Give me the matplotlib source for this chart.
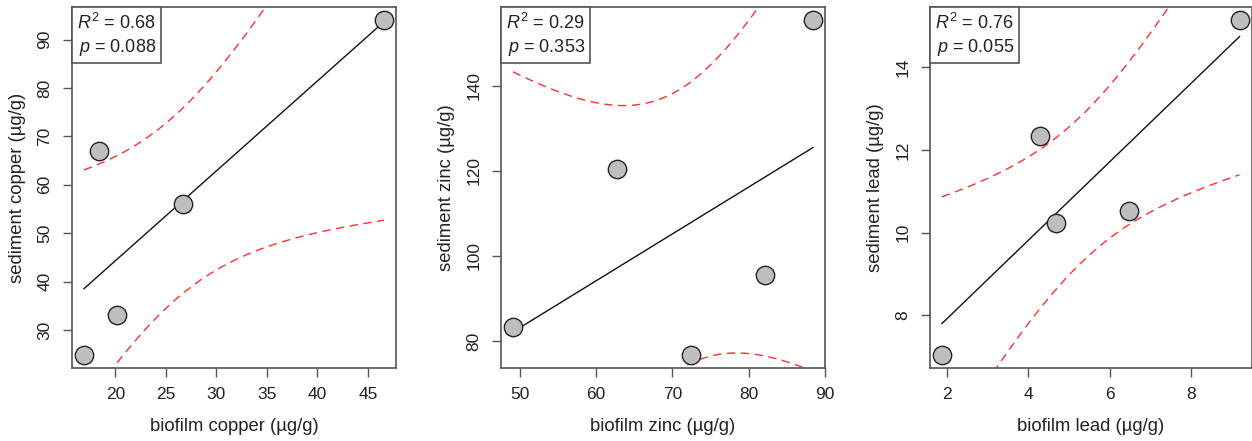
import numpy as np
import matplotlib
matplotlib.use("Agg")
import matplotlib.pyplot as plt
from matplotlib.ticker import MultipleLocator
from matplotlib.offsetbox import AnchoredText

plt.rcParams['font.family'] = ['Liberation Sans', 'DejaVu Sans']
plt.rcParams['mathtext.fontset'] = 'custom'
plt.rcParams['mathtext.rm'] = 'Liberation Sans'
plt.rcParams['mathtext.it'] = 'Liberation Sans:italic'

# biofilm vs sediment metal concentrations (ug/g), one point per site
cu_biofilm = [16.9, 18.35, 20.2, 26.7, 46.6]
cu_sediment = [24.9, 67.0, 33.0, 56.0, 94.0]
zn_biofilm = [49.1, 62.8, 72.5, 82.15, 88.45]
zn_sediment = [83.4, 120.3, 76.8, 95.4, 155.3]
pb_biofilm = [1.88, 4.285, 4.68, 6.48, 9.18]
pb_sediment = [7.05, 12.33, 10.23, 10.52, 15.13]

metals = ['copper', 'zinc', 'lead']
r2_text = ['0.68', '0.29', '0.76']
p_text = ['0.088', '0.353', '0.055']
x_steps = [5, 10, 2]
y_steps = [10, 20, 2]

T90_DF3 = 2.353363  # t quantile for a 90% band, n - 2 = 3 df

SPINE = '#555555'
TXT = '#222222'


def fit_band(x, y, xs):
    x = np.asarray(x, float)
    y = np.asarray(y, float)
    n = len(x)
    b, a = np.polyfit(x, y, 1)
    resid = y - (a + b * x)
    s = np.sqrt(np.sum(resid ** 2) / (n - 2))
    sxx = np.sum((x - x.mean()) ** 2)
    se = s * np.sqrt(1.0 / n + (xs - x.mean()) ** 2 / sxx)
    fit = a + b * xs
    return fit, fit - T90_DF3 * se, fit + T90_DF3 * se


def padded(v):
    lo, hi = min(v), max(v)
    d = 0.04 * (hi - lo)
    return lo - d, hi + d


fig = plt.figure(figsize=(12.52, 4.41), dpi=100)
W, H = 1252.0, 441.0
lefts = [72, 501, 930]
rights = [396, 825, 1251.5]
top, bottom = 7, 368

data = [(cu_biofilm, cu_sediment), (zn_biofilm, zn_sediment), (pb_biofilm, pb_sediment)]

for i, (bx, sy) in enumerate(data):
    ax = fig.add_axes([lefts[i] / W, (H - bottom) / H,
                       (rights[i] - lefts[i]) / W, (bottom - top) / H])
    xs = np.linspace(min(bx), max(bx), 200)
    fit, lo, hi = fit_band(bx, sy, xs)
    ax.plot(xs, lo, color='#ff3030', lw=1.0, dashes=(6, 4), zorder=2)
    ax.plot(xs, hi, color='#ff3030', lw=1.0, dashes=(6, 4), zorder=2)
    ax.plot(xs, fit, color='#111111', lw=1.0, zorder=3)
    ax.scatter(bx, sy, s=175, facecolor='#bebebe', edgecolor='#222222',
               linewidth=1.0, zorder=4)

    ax.set_xlim(*padded(bx))
    ax.set_ylim(*padded(sy))
    ax.xaxis.set_major_locator(MultipleLocator(x_steps[i]))
    ax.yaxis.set_major_locator(MultipleLocator(y_steps[i]))

    for sp in ax.spines.values():
        sp.set_color(SPINE)
        sp.set_linewidth(1.2)
    ax.tick_params(axis='both', direction='out', length=6.5, width=1.0,
                   color=SPINE, labelsize=12.5, labelcolor=TXT, pad=7.5)
    ax.tick_params(axis='y', labelrotation=90)
    for lab in ax.get_yticklabels():
        lab.set_va('center')

    ax.set_xlabel('biofilm %s (µg/g)' % metals[i], fontsize=13.3, color=TXT, labelpad=11)
    ax.set_ylabel('sediment %s (µg/g)' % metals[i], fontsize=13.3, color=TXT, labelpad=8)

    at = AnchoredText('$R^2$ = %s\n$p$ = %s' % (r2_text[i], p_text[i]),
                      loc='upper left', frameon=True, borderpad=0, pad=0.3,
                      prop=dict(size=13, color=TXT, multialignment='right',
                                linespacing=1.3))
    at.patch.set_boxstyle('square,pad=0')
    at.patch.set_edgecolor(SPINE)
    at.patch.set_linewidth(1.2)
    at.zorder = 6
    ax.add_artist(at)

fig.savefig('out.png', dpi=100)
